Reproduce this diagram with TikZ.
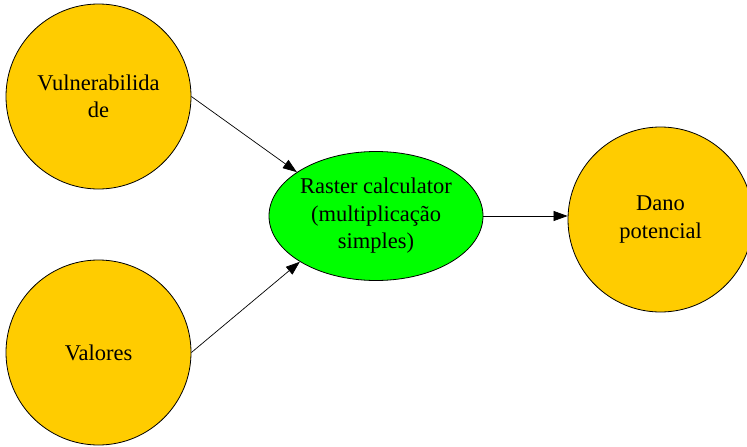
\documentclass[tikz,border=0pt]{standalone}
\usepackage{fontspec}
\setmainfont{Liberation Serif}
\usetikzlibrary{arrows.meta,shapes.geometric}
\definecolor{amber}{HTML}{FFCC00}
\definecolor{lime}{HTML}{00FF00}
\tikzset{
  txt/.style={font=\fontsize{22.5}{27.5}\selectfont, align=center, text=black},
  disc/.style={txt, circle, draw=black, line width=0.8pt, fill=amber,
    minimum size=185pt, inner sep=0pt},
  oval/.style={txt, ellipse, draw=black, line width=0.8pt, fill=lime,
    minimum width=214pt, minimum height=129pt, inner sep=-12pt},
  link/.style={draw=black, line width=0.7pt, -{Triangle[length=14pt,width=10pt]}}
}
\begin{document}
\begin{tikzpicture}[x=1pt,y=-1pt]
  \fill[white] (0,0) rectangle (747,447);
  \useasboundingbox (0,0) rectangle (747,447);
  \node[disc] (v) at (98.5,96.5) {Vulnerabilida\\de};
  \node[disc] (val) at (98.5,352.5) {Valores};
  \node[oval] (r) at (376,216) {Raster calculator\\(multiplicação\\simples)};
  \node[disc] (d) at (660.5,219.5) {Dano\\potencial};
  \draw[link] (v.east) -- (r.151);
  \draw[link] (val.east) -- (r.211);
  \draw[link] (r.east) -- (r.east -| d.west);
\end{tikzpicture}
\end{document}
